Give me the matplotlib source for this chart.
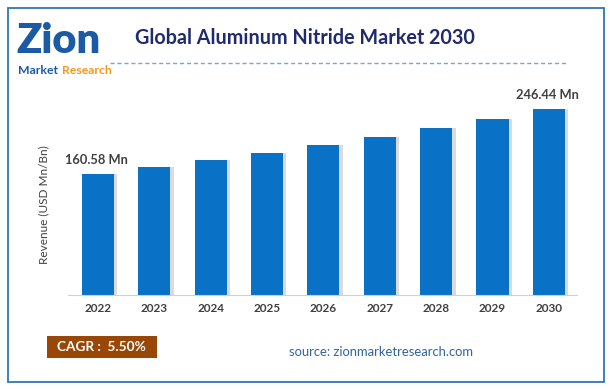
import matplotlib.pyplot as plt
from matplotlib.patches import Rectangle

# Данные
years = ['2022', '2023', '2024', '2025', '2026', '2027', '2028', '2029', '2030']
revenue = [160.58, 169.4, 178.7, 188.6, 198.9, 209.9, 221.4, 233.6, 246.44]
labels = {0: '160.58 Mn', 8: '246.44 Mn'}

W, H = 610, 389
fig = plt.figure(figsize=(W / 100, H / 100), dpi=100)
plt.rcParams['font.family'] = ['Lato', 'DejaVu Sans']

def fx(px):
    return px / W

def fy(py):
    return 1 - py / H

# Рамка
fig.patches.append(Rectangle((fx(8), fy(382)), fx(596), 374 / H, transform=fig.transFigure,
                             fill=False, edgecolor='#2E75B6', linewidth=1.3))

# Оси
ax = fig.add_axes([fx(68), fy(295), fx(577 - 68), (295 - 68) / H])
x = range(len(years))
# тень
ax.bar([i + 0.06 for i in x], revenue, width=0.57, color='#9a9a9a', alpha=0.35, zorder=1)
ax.bar(x, revenue, width=0.57, color='#0A72C6', zorder=2)
ax.set_xlim(-0.53, 8.5)
ax.set_ylim(0, 300.8)
for s in ['top', 'right', 'left']:
    ax.spines[s].set_visible(False)
ax.spines['bottom'].set_color('#d0d0d0')
ax.set_yticks([])
ax.set_xticks(list(x))
ax.set_xticklabels(years, fontsize=8.5, fontweight='bold', color='#404040')
ax.tick_params(axis='x', length=0, pad=6)
for i, t in labels.items():
    ax.text(i - 0.02, revenue[i] + 10, t, ha='center', va='bottom', fontsize=9.3,
            fontweight='bold', color='#404040')

fig.text(fx(44), fy(205), 'Revenue (USD Mn/Bn)', rotation=90, ha='center', va='center',
         fontsize=8.5, color='#404040')

# Заголовок
fig.text(fx(135), fy(38), 'Global Aluminum Nitride Market 2030', ha='left', va='center',
         fontsize=14.2, fontweight='bold', color='#1F2B6E')
fig.add_artist(plt.Line2D([fx(110), fx(566)], [fy(63), fy(63)], color='#7fa3d6',
                          linestyle=(0, (3, 2)), linewidth=1))

# Логотип
fig.text(fx(16), fy(41), 'Zion', ha='left', va='center', fontsize=30, fontweight='heavy',
         color='#1B5AA6')
fig.text(fx(18), fy(70), 'Market', ha='left', va='center', fontsize=8.8, fontweight='bold',
         color='#1B5AA6')
fig.text(fx(62), fy(70), 'Research', ha='left', va='center', fontsize=8.8, fontweight='bold',
         color='#F39A1E')

# CAGR
fig.patches.append(Rectangle((fx(47), fy(358)), fx(110), 22 / H, transform=fig.transFigure,
                             facecolor='#994707', edgecolor='none'))
fig.text(fx(101), fy(347), 'CAGR :  5.50%', ha='center', va='center', fontsize=9.8,
         fontweight='bold', color='white')

fig.text(fx(381), fy(352), 'source: zionmarketresearch.com', ha='center', va='center',
         fontsize=9.4, color='#2F64A0')

fig.savefig('out.png', dpi=100)
